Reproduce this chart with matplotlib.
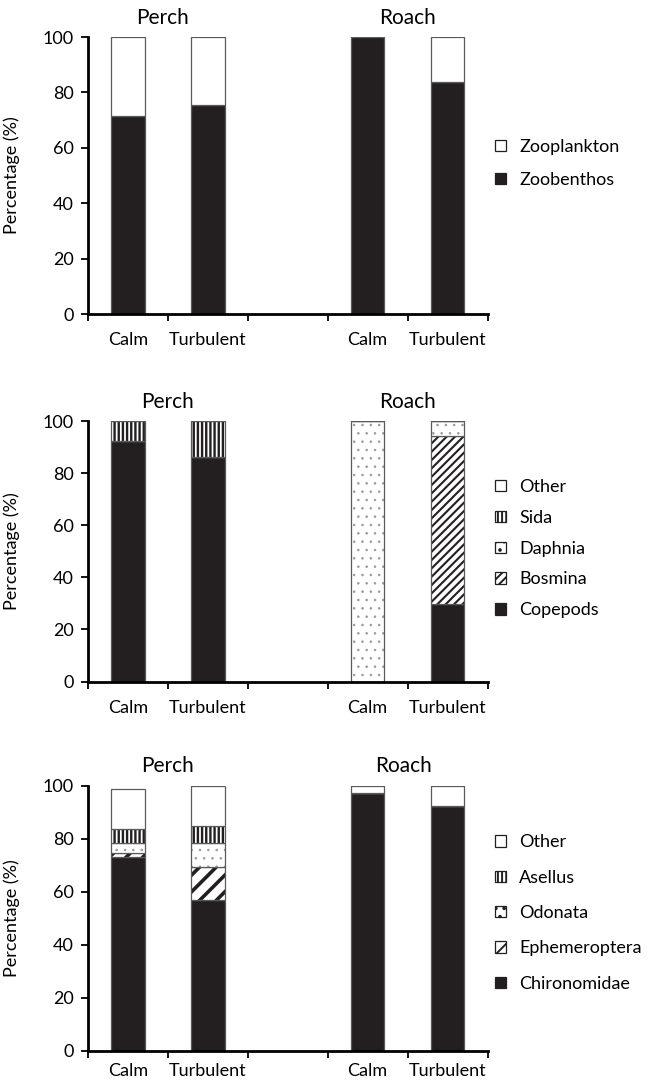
import matplotlib.pyplot as plt
from matplotlib.patches import Patch
import numpy as np

plt.rcParams['font.family'] = ['Lato', 'DejaVu Sans']
plt.rcParams['hatch.linewidth'] = 1.4

# categories
conditions = ['Calm', 'Turbulent', 'Calm', 'Turbulent']
species = ['Perch', 'Roach']

# panel 1 - diet
diet_groups = ['Zoobenthos', 'Zooplankton']
zoobenthos = [71.6, 75.4, 100, 83.6]
zooplankton = [28.4, 24.6, 0, 16.4]

# panel 2 - zooplankton composition
zoo_groups = ['Copepods', 'Bosmina', 'Daphnia', 'Sida', 'Other']
copepods = [92.4, 86.0, 0, 29.7]
bosmina = [0, 0, 0, 64.7]
daphnia = [0, 0, 100, 5.6]
sida = [7.6, 14.0, 0, 0]
zoo_other = [0, 0, 0, 0]

# panel 3 - zoobenthos composition
benthos_groups = ['Chironomidae', 'Ephemeroptera', 'Odonata', 'Asellus', 'Other']
chironomidae = [73.3, 56.9, 97.2, 92.3]
ephemeroptera = [1.5, 12.6, 0, 0]
odonata = [3.8, 8.9, 0, 0]
asellus = [5.2, 6.6, 0, 0]
benthos_other = [14.9, 15.1, 2.8, 7.7]

xpos = [1, 2, 4, 5]
DARK = '#231f20'
OUTLINE = '#5a5a5a'

# face, hatch, hatch colour, hatch linewidth
styles = {
    'black': ('#231f20', None, '#231f20', 1.0),
    'white': ('white', None, 'white', 1.0),
    'diag': ('white', '////', '#231f20', 1.5),
    'diag2': ('white', '//', '#231f20', 2.6),
    'dots': ('white', '..', '#9a9a9a', 0.6),
    'vert': ('white', '||||', '#231f20', 1.7),
}


def stacked_panel(ax, groups, series, style_keys, legend_y, title_x, lspace, xpad=13):
    bottom = np.zeros(len(xpos))
    handles = []
    for name, vals, sk in zip(groups, series, style_keys):
        face, hatch, hcol, hlw = styles[sk]
        bars = ax.bar(xpos, vals, width=0.42, bottom=bottom, color=face,
                      edgecolor=hcol, linewidth=0, hatch=hatch)
        for b in bars:
            if hasattr(b, 'set_hatch_linewidth'):
                b.set_hatch_linewidth(hlw)
        ax.bar(xpos, vals, width=0.42, bottom=bottom, fill=False,
               edgecolor=OUTLINE, linewidth=0.9)
        h = Patch(facecolor=face, edgecolor=DARK, hatch=hatch, linewidth=0.9)
        if hasattr(h, 'set_hatch_linewidth'):
            h.set_hatch_linewidth(min(hlw, 1.2))
        handles.append(h)
        bottom = bottom + np.array(vals)

    ax.set_xlim(0.5, 5.5)
    ax.set_ylim(0, 100)
    ax.set_yticks([0, 20, 40, 60, 80, 100])
    ax.set_xticks(xpos)
    ax.set_xticklabels(conditions)
    ax.set_xticks(np.arange(0.5, 6, 1), minor=True)
    ax.tick_params(axis='x', which='major', length=0, pad=xpad, labelsize=13)
    ax.tick_params(axis='x', which='minor', length=5, width=1.3, direction='out')
    ax.tick_params(axis='y', length=5, width=1.3, pad=5, labelsize=13)
    for s in ['top', 'right']:
        ax.spines[s].set_visible(False)
    for s in ['left', 'bottom']:
        ax.spines[s].set_linewidth(2)
    ax.set_ylabel('Percentage (%)', fontsize=13)
    ax.yaxis.set_label_coords(-0.17, 0.5)

    for sp, x in zip(species, title_x):
        ax.annotate(sp, xy=(x, 100), xycoords='data', xytext=(0, 14),
                    textcoords='offset points', ha='center', va='center', fontsize=15)

    ax.legend(handles[::-1], groups[::-1], loc='center left', bbox_to_anchor=(1.0, legend_y),
              frameon=False, fontsize=13, handlelength=0.6, handleheight=0.6,
              handletextpad=0.75, labelspacing=lspace, borderaxespad=0, borderpad=0.4)


fig = plt.figure(figsize=(6.51, 10.84), dpi=100)

ax1 = fig.add_axes([0.135, 0.7103, 0.614, 0.2555])
stacked_panel(ax1, diet_groups, [zoobenthos, zooplankton], ['black', 'white'],
              0.544, [1.43, 4.5], 0.96)

ax2 = fig.add_axes([0.135, 0.3713, 0.614, 0.2403])
stacked_panel(ax2, zoo_groups, [copepods, bosmina, daphnia, sida, zoo_other],
              ['black', 'diag', 'dots', 'vert', 'white'], 0.51, [1.5, 4.5], 0.82)

ax3 = fig.add_axes([0.135, 0.0305, 0.614, 0.2445])
stacked_panel(ax3, benthos_groups, [chironomidae, ephemeroptera, odonata, asellus, benthos_other],
              ['black', 'diag2', 'dots', 'vert', 'white'], 0.52, [1.5, 4.45], 1.07, xpad=9)

fig.savefig('out.png', dpi=100)
